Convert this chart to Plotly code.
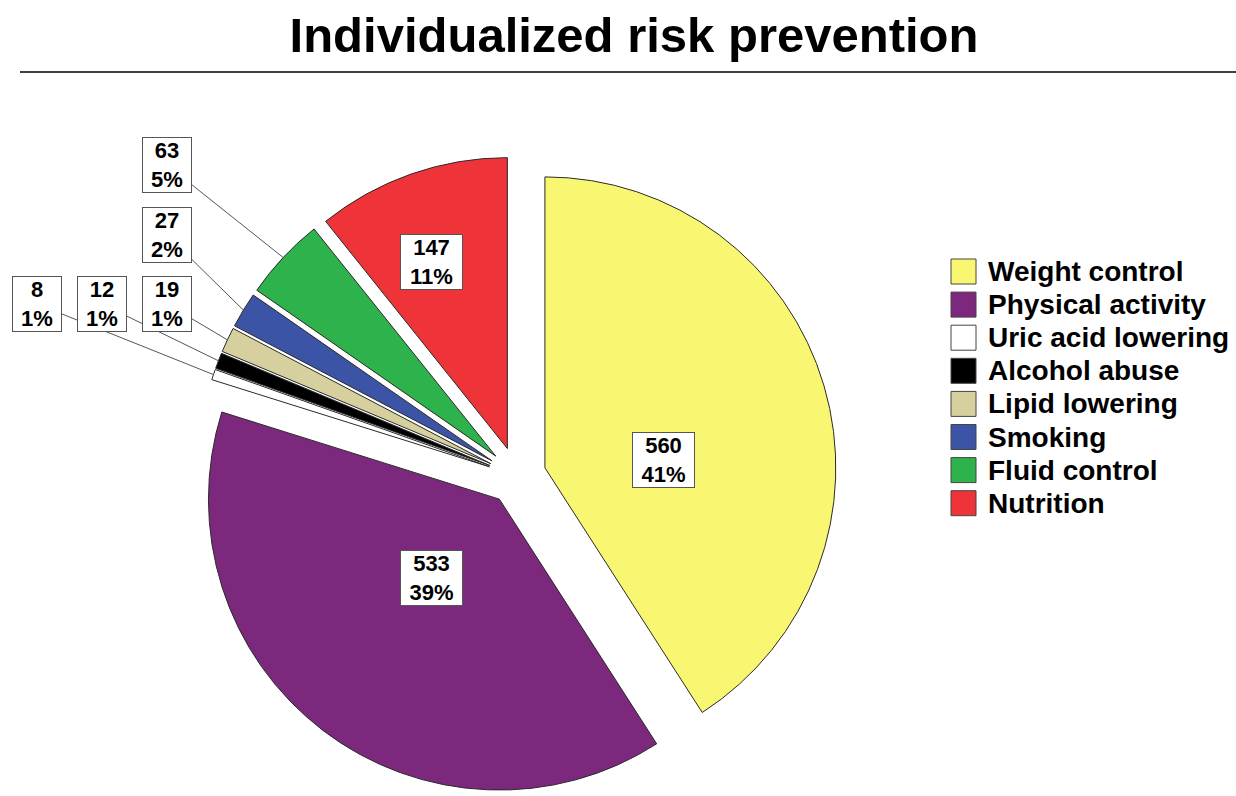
import math
import plotly.graph_objects as go

# ---- data ----
categories = ["Weight control", "Physical activity", "Uric acid lowering", "Alcohol abuse",
              "Lipid lowering", "Smoking", "Fluid control", "Nutrition"]
counts = [560, 533, 8, 12, 19, 27, 63, 147]

# ---- styles / layout ----
colors = ["#F9F772", "#7C287C", "#FFFFFF", "#000000", "#D6D09E", "#3B54A5", "#2EB24B", "#EE3339"]
label_px = [(664, 460), (431, 606), (37, 304), (102, 304), (167, 304), (167, 235), (167, 165), (431, 234)]
label_outside = [False, False, True, True, True, True, True, False]

W, H = 1236, 796
ML, MR, MT, MB = 0, 0, 156, 0
PULL = 0.1
CX = 517
pw, ph = W - ML - MR, H - MT - MB
half = 0.26
dom_x = [CX / pw - half, CX / pw + half]
r = min(pw * (dom_x[1] - dom_x[0]), ph) / (2 + 2 * PULL)
CY = MT + ph / 2

FONT = "Liberation Sans, Arial, sans-serif"


def to_paper(px, py):
    return (px - ML) / pw, 1 - (py - MT) / ph


fig = go.Figure(go.Pie(
    labels=categories, values=counts, sort=False, direction="clockwise", rotation=0,
    pull=[PULL] * len(counts),
    marker=dict(colors=colors, line=dict(color="#2a2a2a", width=1)),
    textinfo="none", showlegend=False, domain=dict(x=dom_x, y=[0, 1]),
))

annotations = []
total = sum(counts)
cum = 0
for i, v in enumerate(counts):
    mid = math.radians((cum + v / 2) / total * 360)
    cum += v
    txt = f"{v}<br>{round(100 * v / total)}%"
    lx, ly = label_px[i]
    common = dict(text=txt, font=dict(family=FONT, size=22, color="black", weight="bold"),
                  bgcolor="white", bordercolor="#555555", borderwidth=1, borderpad=0,
                  xref="paper", yref="paper")
    if label_outside[i]:
        R = r * (1 + PULL)
        tx, ty = CX + R * math.sin(mid), CY - R * math.cos(mid)
        xp, yp = to_paper(tx, ty)
        annotations.append(dict(x=xp, y=yp, ax=lx - tx, ay=ly - ty, axref="pixel", ayref="pixel",
                                showarrow=True, arrowhead=0, arrowwidth=1, arrowcolor="#555555",
                                standoff=0, width=48, **common))
    else:
        xp, yp = to_paper(lx, ly)
        annotations.append(dict(x=xp, y=yp, showarrow=False, width=61, **common))

# custom legend
shapes = []
LEG_X, LEG_Y, LEG_PITCH, SW = 951, 259, 33.1, 25
for i, name in enumerate(categories):
    y0 = LEG_Y + i * LEG_PITCH
    x0p, y0p = to_paper(LEG_X, y0)
    x1p, y1p = to_paper(LEG_X + SW, y0 + SW)
    shapes.append(dict(type="rect", xref="paper", yref="paper", x0=x0p, x1=x1p, y0=y1p, y1=y0p,
                       fillcolor=colors[i], line=dict(color="#444444", width=1)))
    tx, ty = to_paper(LEG_X + SW + 10, y0 + SW / 2)
    annotations.append(dict(x=tx, y=ty, xref="paper", yref="paper", text=name, showarrow=False,
                            xanchor="left", yanchor="middle",
                            font=dict(family=FONT, size=28, color="black", weight="bold")))

# rule under the title
lx0, ly0 = to_paper(20, 72)
lx1, _ = to_paper(1236, 72)
shapes.append(dict(type="line", xref="paper", yref="paper", x0=lx0, x1=lx1, y0=ly0, y1=ly0,
                   line=dict(color="black", width=1.5)))

fig.update_layout(
    width=W, height=H,
    margin=dict(l=ML, r=MR, t=MT, b=MB),
    paper_bgcolor="white", plot_bgcolor="white",
    title=dict(text="Individualized risk prevention", x=634 / W, xanchor="center",
               y=1 - 35 / H, yanchor="middle", yref="container",
               font=dict(family=FONT, size=49, color="black", weight="bold")),
    annotations=annotations, shapes=shapes, showlegend=False,
)

fig.write_html("out.html")
